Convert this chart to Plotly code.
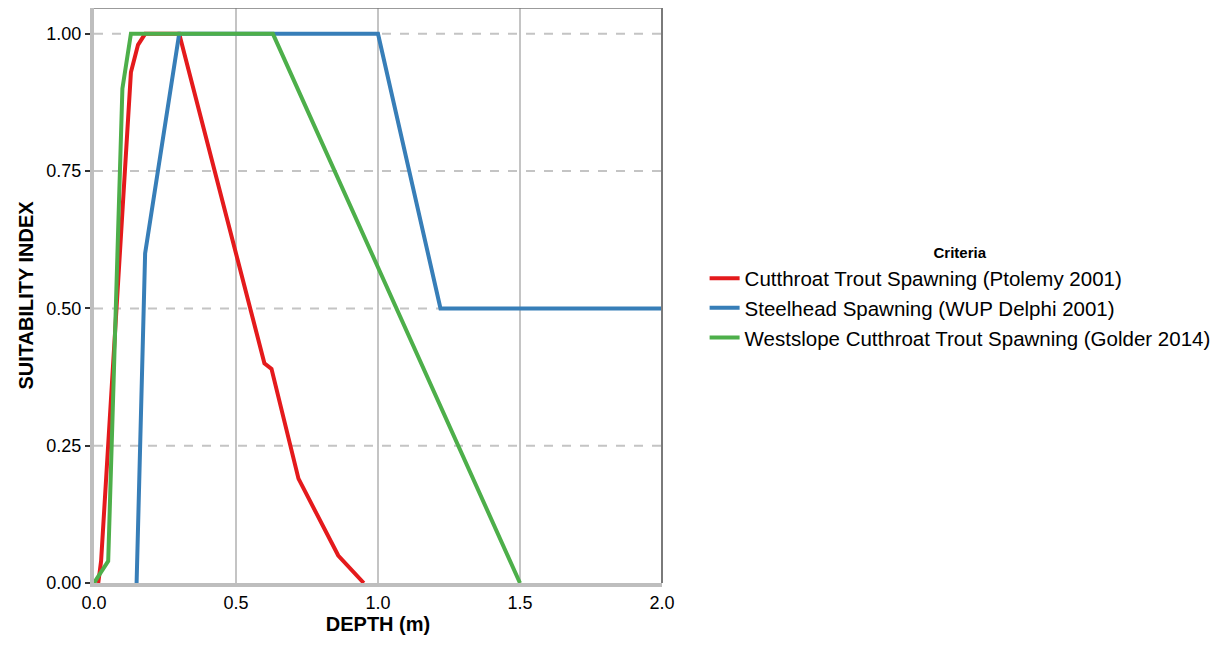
import plotly.graph_objects as go

# Data
names = ["Cutthroat Trout Spawning (Ptolemy 2001)",
         "Steelhead Spawning (WUP Delphi 2001)",
         "Westslope Cutthroat Trout Spawning (Golder 2014)"]
colors = ["#E41A1C", "#377EB8", "#4DAF4A"]

ct_depth = [0.015, 0.025, 0.13, 0.155, 0.18, 0.3, 0.6, 0.625, 0.72, 0.86, 0.95]
ct_si = [0.0, 0.04, 0.93, 0.98, 1.0, 1.0, 0.40, 0.39, 0.19, 0.05, 0.0]

sh_depth = [0.15, 0.18, 0.3, 1.0, 1.22, 2.0]
sh_si = [0.0, 0.6, 1.0, 1.0, 0.5, 0.5]

wct_depth = [0.0, 0.05, 0.1, 0.13, 0.63, 1.5]
wct_si = [0.0, 0.04, 0.9, 1.0, 1.0, 0.0]

x_ticks = [0.0, 0.5, 1.0, 1.5, 2.0]
x_labels = ["0.0", "0.5", "1.0", "1.5", "2.0"]
y_ticks = [0.0, 0.25, 0.5, 0.75, 1.0]
y_labels = ["0.00", "0.25", "0.50", "0.75", "1.00"]

fig = go.Figure()

# horizontal dashed gridlines
for yv in y_ticks[1:]:
    fig.add_shape(type="line", xref="paper", x0=0, x1=1, yref="y", y0=yv, y1=yv,
                  line=dict(color="#c4c4c4", width=2, dash="dash"), layer="below")
# vertical solid gridlines
for xv in x_ticks[1:-1]:
    fig.add_shape(type="line", xref="x", x0=xv, x1=xv, yref="paper", y0=0, y1=1,
                  line=dict(color="#c4c4c4", width=2), layer="below")
# top/right thin border
fig.add_shape(type="line", xref="paper", yref="paper", x0=0, x1=1, y0=1, y1=1,
              line=dict(color="#7a7a7a", width=1.5))
fig.add_shape(type="line", xref="paper", yref="paper", x0=1, x1=1, y0=0, y1=1,
              line=dict(color="#7a7a7a", width=2))

for xs, ys, nm, c in [(ct_depth, ct_si, names[0], colors[0]),
                      (sh_depth, sh_si, names[1], colors[1]),
                      (wct_depth, wct_si, names[2], colors[2])]:
    fig.add_trace(go.Scatter(x=xs, y=ys, mode="lines", name=nm,
                             line=dict(color=c, width=4), cliponaxis=True))

fig.update_layout(
    width=1219, height=643,
    margin=dict(l=86, r=565, t=0, b=68),
    paper_bgcolor="white", plot_bgcolor="white",
    font=dict(family="Liberation Sans, Arial, sans-serif", color="black", size=18),
    xaxis=dict(range=[0, 2], tickvals=x_ticks, ticktext=x_labels, showgrid=False,
               zeroline=False, showline=True, linecolor="#bebebe", linewidth=4,
               ticks="", tickfont=dict(size=18, color="black"),
               title=dict(text="<b>DEPTH (m)</b>", font=dict(size=20), standoff=6)),
    yaxis=dict(range=[0, 1.047], tickvals=y_ticks, ticktext=y_labels, showgrid=False,
               zeroline=False, showline=True, linecolor="#bebebe", linewidth=4,
               ticks="outside", ticklen=5, tickwidth=2, tickcolor="#333333",
               tickfont=dict(size=18, color="black"),
               title=dict(text="<b>SUITABILITY INDEX</b>", font=dict(size=20), standoff=8)),
    legend=dict(x=1.075, y=0.495, xanchor="left", yanchor="middle",
                title=dict(text="<b>Criteria</b>", font=dict(size=15), side="top center"),
                font=dict(size=20.5), bgcolor="rgba(0,0,0,0)", tracegroupgap=0),
    showlegend=True,
)

fig.write_html("out.html")
